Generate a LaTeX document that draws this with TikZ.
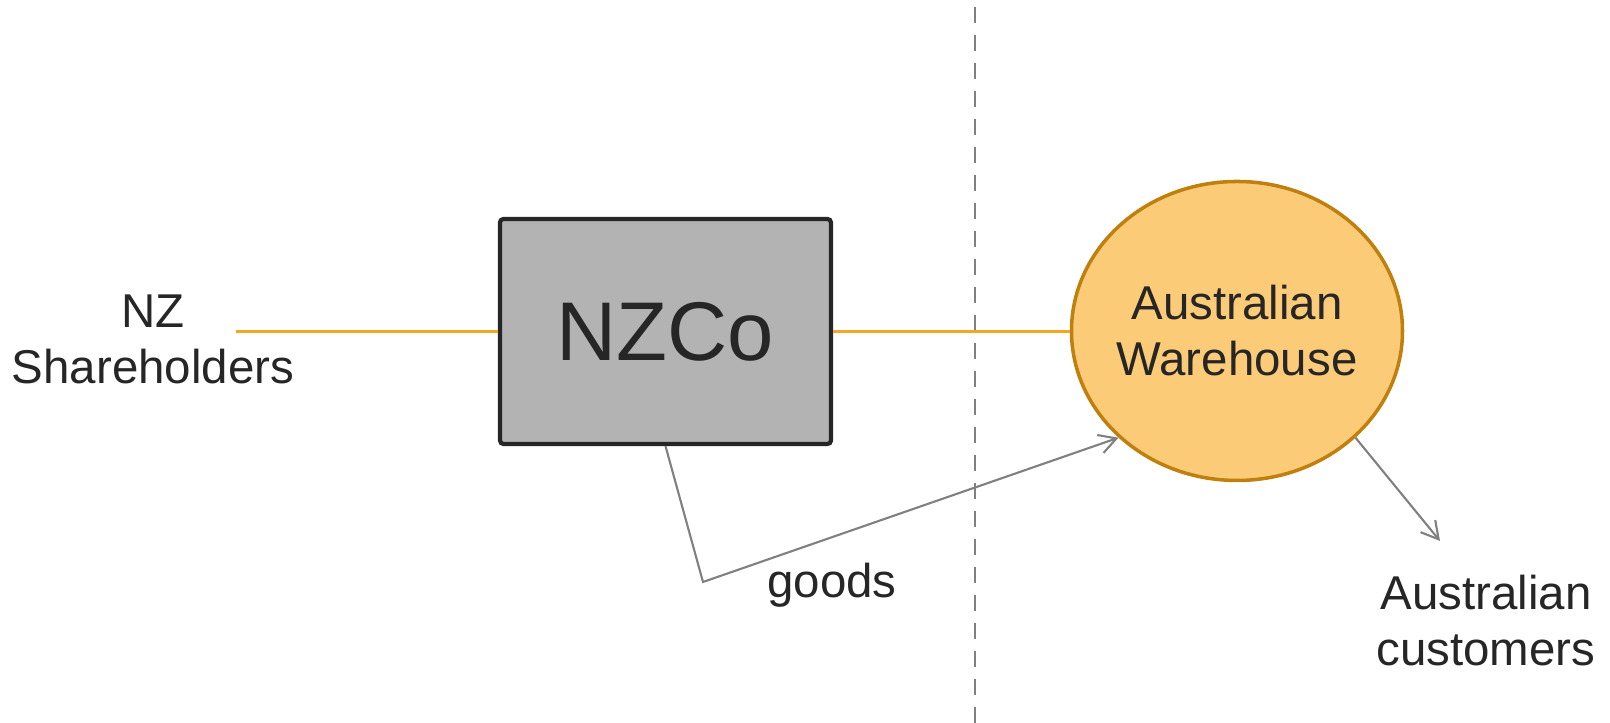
\documentclass[tikz,border=0pt]{standalone}
\usepackage{fontspec}
\setmainfont{Liberation Sans}
\usetikzlibrary{arrows.meta,shapes.geometric}
\definecolor{txt}{HTML}{262626}
\definecolor{boxgray}{HTML}{B3B3B3}
\definecolor{flow}{HTML}{F5A623}
\definecolor{whfill}{HTML}{FBCB77}
\definecolor{whedge}{HTML}{C0800E}
\definecolor{link}{HTML}{808080}

\begin{document}
\begin{tikzpicture}[
    lbl/.style={text=txt,align=center,font=\fontsize{13.5}{15.9}\selectfont},
    own/.style={line width=0.85pt,flow},
    ship/.style={line width=0.6pt,link,-{Straight Barb[length=1.7mm,width=1.9mm]}}
  ]
                    \useasboundingbox (0,0) rectangle (16.10,7.23);
                    \draw[link,line width=0.68pt,dash pattern=on 0.16cm off 0.12cm] (9.75,7.16)--(9.75,0);
                    \node[draw=txt,fill=boxgray,line width=1.2pt,rounded corners=1pt,minimum width=3.31cm,minimum height=2.25cm,text=txt,font=\fontsize{23.7}{28}\selectfont] (nzco) at (6.655,3.915) {NZCo};
                    \node[ellipse,draw=whedge,fill=whfill,line width=1pt,inner xsep=-4mm,inner ysep=0pt,minimum width=3.31cm,minimum height=2.99cm,lbl] (aw) at (12.37,3.92) {Australian\\Warehouse};
                    \node[lbl] (nzsh) at (1.53,3.84) {NZ\\Shareholders};
                    \coordinate (shx) at (2.36,3.91);
                    \draw[own] (shx)--(nzco.west|-shx);
                    \draw[own] (nzco.east|-shx)--(aw.west|-shx);
                    \coordinate (bend) at (7.03,1.41);
                    \draw[ship] (nzco.south)--(bend)--(aw.222);
                    \node[lbl] (goods) at (8.32,1.38) {goods};
                    \coordinate (cust) at (14.40,1.82);
                    \draw[ship] (aw.-42)--(cust);
                    \node[lbl] (ausc) at (14.86,1.02) {Australian\\customers};
                \end{tikzpicture}
\end{document}
